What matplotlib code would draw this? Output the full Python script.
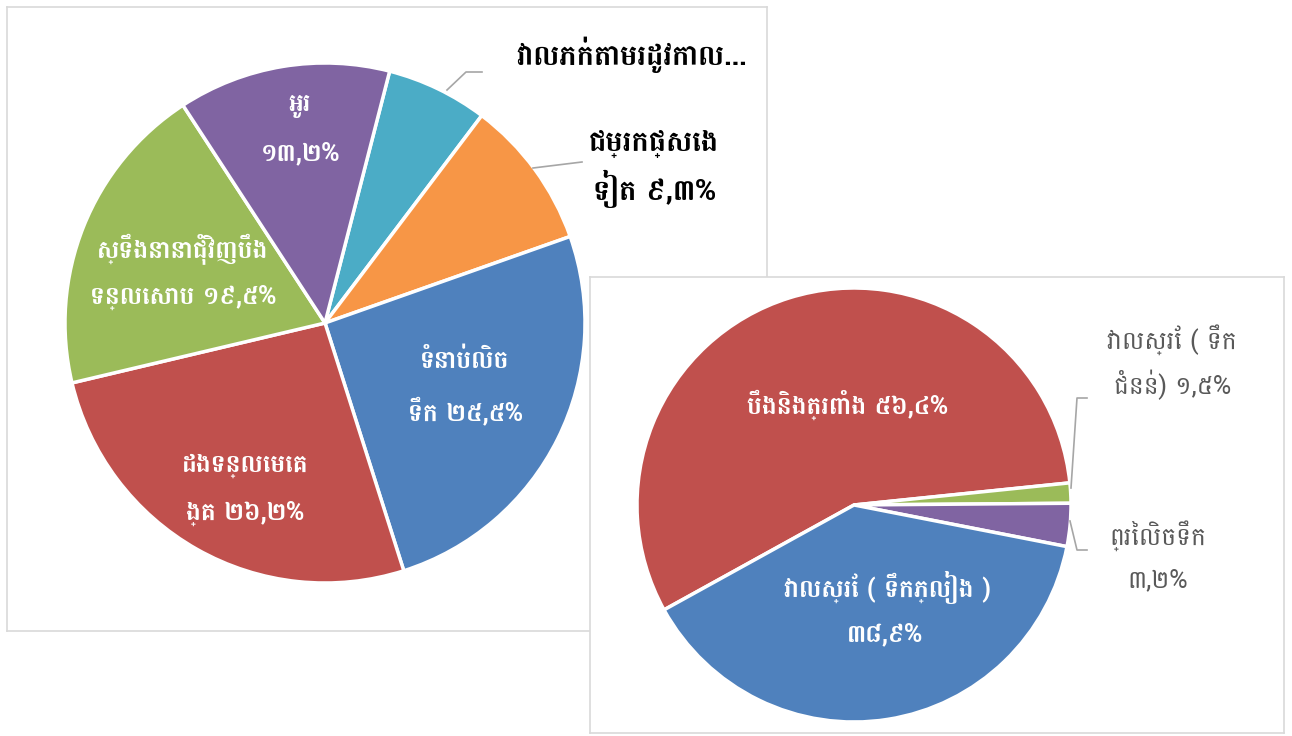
import matplotlib
matplotlib.use("Agg")
import matplotlib.pyplot as plt

# --- data ---
left_labels = ["វាលភក់តាមរដូវកាល...", "ជម្រកផ្សេងទៀត", "ទំនាប់លិចទឹក",
               "ដងទន្លេមេគង្គ", "ស្ទឹងនានាជុំវិញបឹងទន្លេសាប", "អូរ"]
left_values = [6.3, 9.3, 25.5, 26.2, 19.5, 13.2]
left_colors = ["#4bacc6", "#f79646", "#4f81bd", "#c0504d", "#9bbb59", "#8064a2"]

right_labels = ["បឹងនិងត្រពាំង", "វាលស្រែ ( ទឹកជំនន់)", "ព្រៃលិចទឹក", "វាលស្រែ ( ទឹកភ្លៀង )"]
right_values = [56.4, 1.5, 3.2, 38.9]
right_colors = ["#c0504d", "#9bbb59", "#8064a2", "#4f81bd"]

khmer_digits = str.maketrans("0123456789", "០១២៣៤៥៦៧៨៩")


def kh_pct(v):
    return ("%.1f" % v).replace(".", ",").translate(khmer_digits) + "%"


plt.rcParams["font.family"] = ["Battambang", "DejaVu Sans"]

W, H = 1292, 736
fig = plt.figure(figsize=(W / 100, H / 100), dpi=100)


def box_axes(x0, y0, w, h, z):
    ax = fig.add_axes([x0 / W, 1 - (y0 + h) / H, w / W, h / H], zorder=z)
    ax.set_xticks([])
    ax.set_yticks([])
    ax.set_facecolor("white")
    for s in ax.spines.values():
        s.set_color("#d9d9d9")
        s.set_linewidth(1.2)
    return ax


def put(ax, box, px, py, s, **kw):
    # px, py in figure pixels (top-left origin)
    ax.text(px - box[0], box[3] - (py - box[1]), s, ha="center", va="center", **kw)


def leader(ax, box, pts):
    xs = [p[0] - box[0] for p in pts]
    ys = [box[3] - (p[1] - box[1]) for p in pts]
    ax.plot(xs, ys, color="#a6a6a6", lw=1.2, zorder=5)


def fix(ax, box):
    ax.set_xlim(0, box[2])
    ax.set_ylim(0, box[3])
    ax.set_aspect("equal")


# left chart
lb = (7, 7, 760, 624)
ax1 = box_axes(*lb, z=1)
ax1.pie(left_values, colors=left_colors, startangle=75.6, counterclock=False,
        center=(325 - lb[0], lb[3] - (323 - lb[1])), radius=260, frame=True,
        wedgeprops=dict(edgecolor="white", linewidth=2.5))
fix(ax1, lb)

wt = dict(color="white", fontsize=18, fontweight="bold")
bk = dict(color="black", fontsize=21, fontweight="bold")
put(ax1, lb, 300, 106, "អូរ", **wt)
put(ax1, lb, 300, 153, kh_pct(left_values[5]), **wt)
put(ax1, lb, 183, 249, "ស្ទឹងនានាជុំវិញបឹង", **wt)
put(ax1, lb, 183, 297, "ទន្លេសាប " + kh_pct(left_values[4]), **wt)
put(ax1, lb, 465, 360, "ទំនាប់លិច", **wt)
put(ax1, lb, 465, 411, "ទឹក " + kh_pct(left_values[2]), **wt)
put(ax1, lb, 245, 466, "ដងទន្លេមេគ", **wt)
put(ax1, lb, 245, 513, "ង្គ " + kh_pct(left_values[3]), **wt)
put(ax1, lb, 632, 55, left_labels[0], **bk)
put(ax1, lb, 654, 143, "ជម្រកផ្សេង", **bk)
put(ax1, lb, 654, 189, "ទៀត " + kh_pct(left_values[1]), **bk)
leader(ax1, lb, [(447, 90), (466, 72), (482, 72)])
leader(ax1, lb, [(533, 168), (582, 162)])

# right chart
rb = (590, 277, 694, 456)
ax2 = box_axes(*rb, z=2)
ax2.pie(right_values, colors=right_colors, startangle=-151.1, counterclock=False,
        center=(854 - rb[0], rb[3] - (505 - rb[1])), radius=217, frame=True,
        wedgeprops=dict(edgecolor="white", linewidth=2.5))
fix(ax2, rb)

gr = dict(color="#595959", fontsize=18)
put(ax2, rb, 847, 405, right_labels[0] + " " + kh_pct(right_values[0]), **wt)
put(ax2, rb, 887, 587, right_labels[3], **wt)
put(ax2, rb, 885, 634, kh_pct(right_values[3]), **wt)
put(ax2, rb, 1172, 340, "វាលស្រែ ( ទឹក", **gr)
put(ax2, rb, 1172, 385, "ជំនន់) " + kh_pct(right_values[1]), **gr)
put(ax2, rb, 1158, 536, right_labels[2], **gr)
put(ax2, rb, 1158, 580, kh_pct(right_values[2]), **gr)
leader(ax2, rb, [(1071, 488), (1077, 398), (1087, 398)])
leader(ax2, rb, [(1070, 521), (1077, 550), (1087, 550)])

fig.savefig("out.png", dpi=100, facecolor="white")
